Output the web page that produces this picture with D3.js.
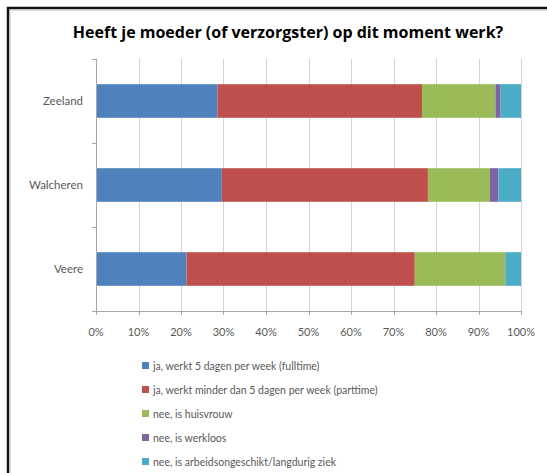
<!DOCTYPE html>
<html>
<head>
<meta charset="utf-8">
<script src="https://cdn.jsdelivr.net/npm/d3@7"></script>
<style>
  body { margin: 0; background: #fff; }
  text { font-family: Lato, "Open Sans", sans-serif; }
  text.title { font-family: "Open Sans", sans-serif; }
</style>
</head>
<body>
<div id="chart"></div>
<script>
// Data (percent of respondents)
var categories = ["Zeeland", "Walcheren", "Veere"];
var fulltime  = [28.6, 29.6, 21.3];
var parttime  = [48.1, 48.5, 53.7];
var huisvrouw = [17.3, 14.6, 21.3];
var werkloos  = [1.2, 2.0, 0];
var ziek      = [4.8, 5.3, 3.7];
var seriesNames = [
  "ja, werkt 5 dagen per week (fulltime)",
  "ja, werkt minder dan 5 dagen per week (parttime)",
  "nee, is huisvrouw",
  "nee, is werkloos",
  "nee, is arbeidsongeschikt/langdurig ziek"
];
var xTicks = [0, 10, 20, 30, 40, 50, 60, 70, 80, 90, 100];
var title = "Heeft je moeder (of verzorgster) op dit moment werk?";

var colors = ["#4F81BD", "#C0504D", "#9BBB59", "#8064A2", "#4BACC6"];

var width = 547, height = 473;
var plotLeft = 96, plotRight = 521, plotTop = 59, plotBottom = 311;

// build rows for d3.stack
var keys = ["fulltime", "parttime", "huisvrouw", "werkloos", "ziek"];
var rows = categories.map(function(c, i) {
  return { cat: c, fulltime: fulltime[i], parttime: parttime[i],
           huisvrouw: huisvrouw[i], werkloos: werkloos[i], ziek: ziek[i] };
});
var stacked = d3.stack().keys(keys)(rows);

var x = d3.scaleLinear().domain([0, 100]).range([plotLeft, plotRight]);
var y = d3.scaleBand().domain(categories).range([plotTop, plotBottom]).paddingInner(0.6).paddingOuter(0.3);
var yEdge = d3.scaleLinear().domain([0, categories.length]).range([plotTop, plotBottom]);

var svg = d3.select("#chart")
  .append("svg")
  .attr("width", width)
  .attr("height", height);

// frame (top and left edge of the chart box)
svg.append("line").attr("x1", 7).attr("x2", width).attr("y1", 8).attr("y2", 8)
  .attr("stroke", "#111").attr("stroke-width", 2.5);
svg.append("line").attr("x1", 8).attr("x2", 8).attr("y1", 7).attr("y2", height)
  .attr("stroke", "#111").attr("stroke-width", 2.5);
svg.append("line").attr("x1", 10).attr("x2", 10).attr("y1", 10).attr("y2", height)
  .attr("stroke", "#bbb").attr("stroke-width", 1);
svg.append("line").attr("x1", 10).attr("x2", width).attr("y1", 10).attr("y2", 10)
  .attr("stroke", "#bbb").attr("stroke-width", 1);

// title
svg.append("text")
  .attr("class", "title")
  .attr("x", 288).attr("y", 38)
  .attr("text-anchor", "middle")
  .attr("font-size", "16px")
  .attr("font-weight", "bold")
  .attr("fill", "#000")
  .text(title);

// vertical gridlines
svg.selectAll("line.grid")
  .data(xTicks.slice(1))
  .enter()
  .append("line")
  .attr("class", "grid")
  .attr("x1", function(d) { return Math.round(x(d)) + 0.5; })
  .attr("x2", function(d) { return Math.round(x(d)) + 0.5; })
  .attr("y1", plotTop)
  .attr("y2", plotBottom)
  .attr("stroke", "#d4d4d4");

// bars
svg.selectAll("g.series")
  .data(stacked)
  .enter()
  .append("g")
  .attr("class", "series")
  .attr("fill", function(d, i) { return colors[i]; })
  .selectAll("rect")
  .data(function(d) { return d; })
  .enter()
  .append("rect")
  .attr("x", function(d) { return x(d[0]); })
  .attr("y", function(d) { return y(d.data.cat); })
  .attr("width", function(d) { return x(d[1]) - x(d[0]); })
  .attr("height", y.bandwidth());

// x axis line and ticks
svg.append("line")
  .attr("x1", plotLeft - 0.5).attr("x2", plotRight + 0.5)
  .attr("y1", plotBottom + 0.5).attr("y2", plotBottom + 0.5)
  .attr("stroke", "#a6a6a6");
svg.selectAll("line.xtick")
  .data(xTicks)
  .enter()
  .append("line")
  .attr("class", "xtick")
  .attr("x1", function(d) { return Math.round(x(d)) + 0.5; })
  .attr("x2", function(d) { return Math.round(x(d)) + 0.5; })
  .attr("y1", plotBottom)
  .attr("y2", plotBottom + 4)
  .attr("stroke", "#a6a6a6");
svg.selectAll("text.xlab")
  .data(xTicks)
  .enter()
  .append("text")
  .attr("class", "xlab")
  .attr("x", function(d) { return x(d); })
  .attr("y", plotBottom + 25)
  .attr("text-anchor", "middle")
  .attr("font-size", "11px")
  .attr("fill", "#595959")
  .text(function(d) { return d + "%"; });

// y axis line and ticks
svg.append("line")
  .attr("x1", plotLeft + 0.5).attr("x2", plotLeft + 0.5)
  .attr("y1", plotTop).attr("y2", plotBottom + 1)
  .attr("stroke", "#a6a6a6");
svg.selectAll("line.ytick")
  .data(d3.range(categories.length + 1))
  .enter()
  .append("line")
  .attr("class", "ytick")
  .attr("x1", plotLeft - 4)
  .attr("x2", plotLeft)
  .attr("y1", function(d) { return Math.round(yEdge(d)) + 0.5; })
  .attr("y2", function(d) { return Math.round(yEdge(d)) + 0.5; })
  .attr("stroke", "#a6a6a6");
svg.selectAll("text.ylab")
  .data(categories)
  .enter()
  .append("text")
  .attr("class", "ylab")
  .attr("x", 83)
  .attr("y", function(d) { return y(d) + y.bandwidth() / 2 + 4; })
  .attr("text-anchor", "end")
  .attr("font-size", "11.5px")
  .attr("fill", "#595959")
  .text(function(d) { return d; });

// legend
var legend = svg.selectAll("g.legend")
  .data(seriesNames)
  .enter()
  .append("g")
  .attr("class", "legend")
  .attr("transform", function(d, i) { return "translate(142," + (365.5 + i * 24) + ")"; });
legend.append("rect")
  .attr("x", 0).attr("y", -3.5)
  .attr("width", 7).attr("height", 7)
  .attr("fill", function(d, i) { return colors[i]; });
legend.append("text")
  .attr("x", 11).attr("y", 4)
  .attr("font-size", "10.5px")
  .attr("fill", "#595959")
  .text(function(d) { return d; });
</script>
</body>
</html>
